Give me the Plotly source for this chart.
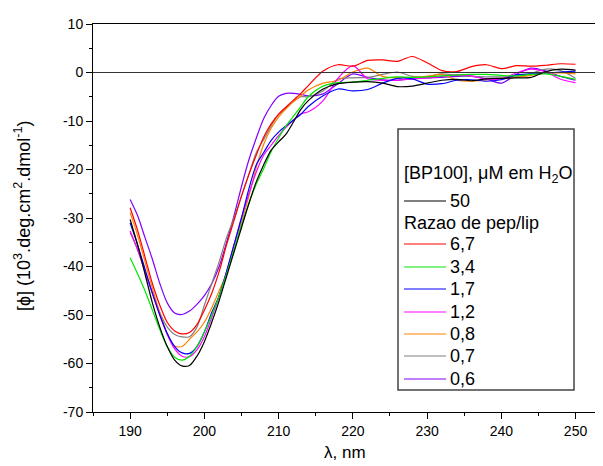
import plotly.graph_objects as go

# wavelength grid (nm): 1 nm steps through the band, 2 nm across the plateau
WAVELENGTH = list(range(190, 215)) + list(range(216, 251, 2))

# mean residue ellipticity, 10^3 deg.cm2.dmol-1
BP100_50 = [-30.3, -35.5, -41.5, -47.5, -52.5, -56.5, -59.3, -60.5, -60.4, -58.5,
            -55.5, -51.5, -47.0, -42.0, -37.0, -32.0, -27.0, -22.5, -19.0, -16.0,
            -14.3, -12.7, -10.2, -7.6, -5.8,
            -3.4, -2.3, -2.0, -1.9, -2.2, -2.9, -2.8, -2.2, -1.6, -1.4,
            -1.7, -1.3, -1.2, -1.1, -1.0, 0.2, 0.7, 0.5]
RATIO_6_7 = [-27.9, -32.5, -38.0, -43.5, -48.0, -51.5, -53.3, -53.9, -53.6, -52.0,
             -49.0, -45.5, -41.0, -35.5, -30.5, -25.5, -21.0, -17.0, -13.3, -10.6,
             -8.6, -7.1, -5.7, -4.3, -2.7,
             0.3, 1.6, 1.3, 2.5, 2.6, 2.3, 3.3, 2.0, 0.4, 0.2,
             1.2, 1.6, 0.8, 1.4, 1.3, 1.5, 1.8, 1.7]
RATIO_3_4 = [-38.2, -41.5, -45.0, -49.0, -53.0, -56.5, -58.7, -59.3, -58.5, -56.5,
             -53.5, -50.0, -46.0, -41.5, -36.5, -31.5, -27.0, -23.0, -19.8, -16.3,
             -13.5, -11.0, -9.0, -7.0, -5.0,
             -2.8, -2.1, -2.0, -1.6, -1.2, -0.9, -1.0, -0.9, -0.7, -0.5,
             -0.4, -0.4, -0.6, -0.7, -0.4, -0.3, -0.8, -1.4]
RATIO_1_7 = [-31.0, -35.5, -40.5, -45.5, -50.0, -53.8, -56.5, -57.8, -57.9, -56.5,
             -53.5, -49.5, -46.0, -41.0, -35.5, -30.0, -24.0, -19.0, -16.5, -14.0,
             -12.3, -11.0, -9.8, -8.6, -7.0,
             -4.8, -3.4, -3.8, -3.5, -2.2, -1.2, -1.3, -2.4, -2.3, -1.6,
             -1.5, -1.8, -1.5, -0.5, -0.3, -0.1, 0.1, 0.3]
RATIO_1_2 = [-32.7, -36.5, -41.0, -45.5, -50.0, -54.0, -57.0, -58.5, -58.6, -57.2,
             -54.5, -50.5, -46.0, -41.0, -35.5, -30.0, -25.0, -20.5, -17.0, -15.0,
             -13.0, -11.3, -9.8, -8.5, -8.1,
             -5.8, -1.2, 1.4, -1.3, -1.6, -1.6, -1.3, -1.1, -0.8, -0.5,
             -0.7, -1.4, -1.3, -0.1, 0.7, 0.1, -1.4, -2.1]
RATIO_0_8 = [-28.9, -33.5, -39.0, -44.5, -49.5, -53.8, -56.4, -56.5, -55.0, -53.5,
             -51.5, -48.5, -45.0, -41.5, -36.5, -31.0, -25.5, -19.5, -14.8, -11.5,
             -9.2, -7.5, -6.0, -4.8, -3.6,
             -2.2, -1.6, 0.1, 0.9, -0.8, -1.1, -1.0, -0.8, -0.4, -1.6,
             -1.8, -1.5, -1.2, -1.0, -0.6, -0.1, -0.1, -0.3]
RATIO_0_7 = [-33.0, -36.5, -41.0, -45.5, -49.5, -52.5, -54.0, -54.5, -54.5, -52.5,
             -48.0, -43.5, -39.0, -34.0, -30.0, -25.5, -21.0, -16.5, -13.8, -11.0,
             -8.7, -7.3, -6.0, -5.0, -5.0,
             -3.8, -1.4, -1.1, -1.0, -0.4, 0.1, -0.8, -0.8, -0.3, -0.6,
             -0.8, -0.9, -0.9, -0.9, -0.2, 0.7, 0.4, -1.2]
RATIO_0_6 = [-26.2, -29.5, -34.0, -38.5, -43.5, -47.5, -49.6, -49.9, -49.2, -47.8,
             -46.0, -43.5, -40.0, -35.0, -29.5, -23.5, -18.0, -13.5, -9.5, -6.8,
             -4.9, -4.3, -4.3, -4.5, -4.8,
             -4.4, -2.3, -0.3, -1.0, -1.5, -1.6, -1.3, -1.1, -1.0, -0.8,
             -0.8, -1.3, -2.2, -0.4, 0.9, 0.3, -0.8, -1.6]

LEGEND_LABELS = ["50", "6,7", "3,4", "1,7", "1,2", "0,8", "0,7", "0,6"]
COLORS = ["#000000", "#FF0000", "#00E600", "#0000FF", "#FF00FF", "#FF8000", "#808080", "#8000FF"]
SERIES = [BP100_50, RATIO_6_7, RATIO_3_4, RATIO_1_7, RATIO_1_2, RATIO_0_8, RATIO_0_7, RATIO_0_6]

X_TICKS = [190, 200, 210, 220, 230, 240, 250]
Y_TICKS = [10, 0, -10, -20, -30, -40, -50, -60, -70]

# the page body adds an 8 px margin, so the plot frame is laid out in
# window pixels and shifted back by OFF
W, H = 603, 466
OFF = 8
ML, MT = 93 - OFF, 24 - OFF
MR = OFF
MB = H - (412 - OFF)
FONT = "Liberation Sans, Arial, sans-serif"


def px(x):
    return (x - OFF - ML) / (W - ML - MR)


def py(y):
    return 1 - (y - OFF - MT) / (H - MT - MB)


fig = go.Figure()

# draw purple/gray first so black ends on top
for i in [7, 6, 5, 4, 3, 2, 1, 0]:
    fig.add_trace(go.Scatter(
        x=WAVELENGTH, y=SERIES[i], mode="lines", name=LEGEND_LABELS[i],
        line=dict(color=COLORS[i], width=1.2, shape="spline", smoothing=0.8),
        showlegend=False,
    ))

# zero baseline
fig.add_shape(type="line", xref="paper", yref="y", x0=0, x1=1, y0=0, y1=0,
              line=dict(color="#333333", width=1))

# hand-built legend (Origin style)
shapes = [dict(type="rect", xref="paper", yref="paper",
               x0=px(398), x1=px(574), y0=py(390), y1=py(129),
               line=dict(color="#444444", width=1.5), fillcolor="white", layer="above")]
annots = [
    dict(text="[BP100], \u03bcM em H<sub>2</sub>O", x=px(402), y=py(175)),
    dict(text="Razao de pep/lip", x=px(402), y=py(223)),
]
rows = [201, 244, 267, 289, 312, 334, 356, 379]
for lab, col, yy in zip(LEGEND_LABELS, COLORS, rows):
    shapes.append(dict(type="line", xref="paper", yref="paper",
                       x0=px(404), x1=px(446), y0=py(yy), y1=py(yy),
                       line=dict(color=col, width=1.2), layer="above"))
    annots.append(dict(text=lab, x=px(448), y=py(yy)))
for a in annots:
    a.update(xref="paper", yref="paper", xanchor="left", yanchor="middle",
             showarrow=False, font=dict(family=FONT, size=18, color="black"))

# axis titles placed as annotations
annots.append(dict(text="\u03bb, nm", xref="paper", yref="paper",
                   x=px(345), y=py(452), xanchor="center", yanchor="middle",
                   showarrow=False, font=dict(family=FONT, size=17, color="black")))
annots.append(dict(text="[\u03d5] (10<sup>3</sup>.deg.cm<sup>2</sup>.dmol<sup>-1</sup>)",
                   xref="paper", yref="paper", x=px(22), y=py(216),
                   xanchor="center", yanchor="middle", textangle=-90,
                   showarrow=False, font=dict(family=FONT, size=18, color="black")))

fig.update_layout(
    width=W, height=H, autosize=False,
    margin=dict(l=ML, r=MR, t=MT, b=MB, autoexpand=False),
    paper_bgcolor="white", plot_bgcolor="white",
    font=dict(family=FONT, size=14, color="black"),
    shapes=list(fig.layout.shapes) + shapes,
    annotations=annots,
)
fig.update_xaxes(
    range=[185, 253.7], tickmode="array", tickvals=X_TICKS,
    ticktext=[str(v) for v in X_TICKS], ticks="outside", ticklen=6,
    tickcolor="black", showline=True, linecolor="black", linewidth=1,
    mirror=True, showgrid=False, zeroline=False, automargin=False,
    minor=dict(ticks="outside", ticklen=3, dtick=5, tick0=185, tickcolor="black"),
)
fig.update_yaxes(
    range=[-70, 10], tickmode="array", tickvals=Y_TICKS,
    ticktext=[str(v) for v in Y_TICKS], ticks="outside", ticklen=6,
    tickcolor="black", showline=True, linecolor="black", linewidth=1,
    showgrid=False, zeroline=False, automargin=False,
    minor=dict(ticks="outside", ticklen=3, dtick=5, tick0=5, tickcolor="black"),
)

fig.write_html("out.html")
